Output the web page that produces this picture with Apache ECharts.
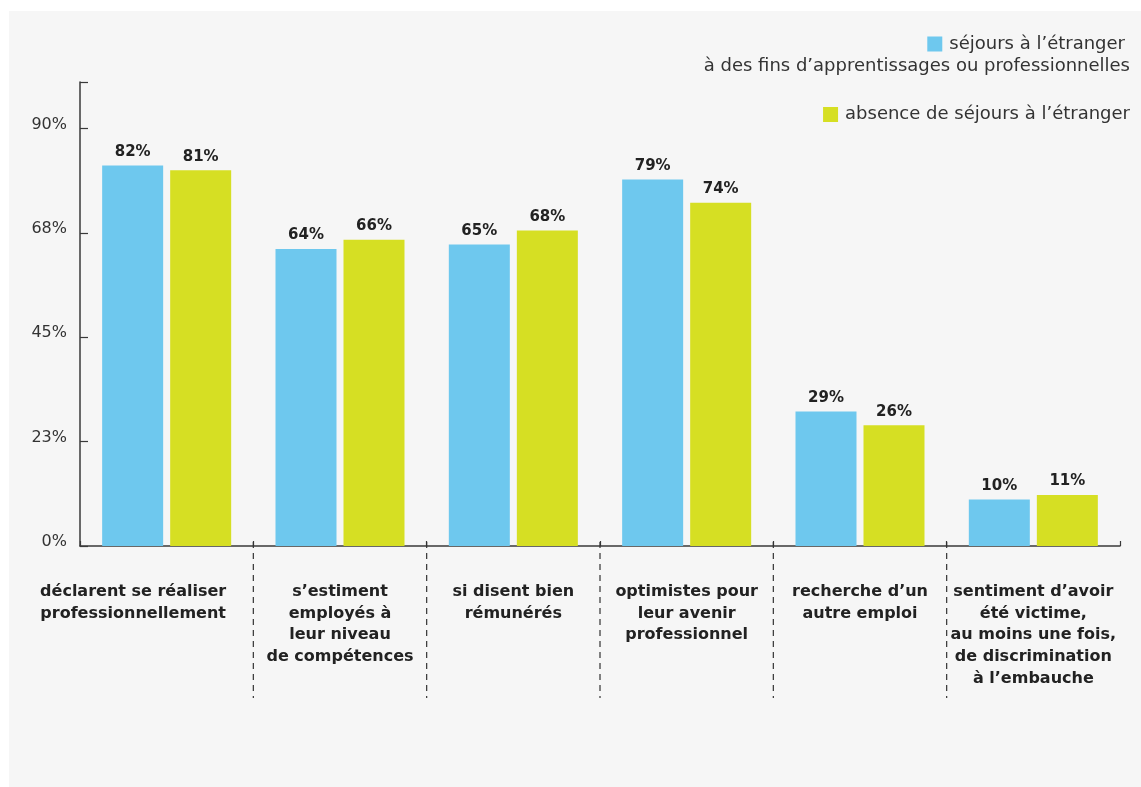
<!DOCTYPE html>
<html>
<head>
<meta charset="utf-8">
<script src="https://cdn.jsdelivr.net/npm/echarts@6/dist/echarts.min.js"></script>
<style>
html,body{margin:0;padding:0;background:#ffffff;}
#chart{position:absolute;left:9px;top:11px;width:1132px;height:776px;background:#f6f6f6;}
</style>
</head>
<body>
<div id="chart"></div>
<script>
const categories = [
  "déclarent se réaliser\nprofessionnellement",
  "s’estiment\nemployés à\nleur niveau\nde compétences",
  "si disent bien\nrémunérés",
  "optimistes pour\nleur avenir\nprofessionnel",
  "recherche d’un\nautre emploi",
  "sentiment d’avoir\nété victime,\nau moins une fois,\nde discrimination\nà l’embauche"
];
const seriesNames = [
  "séjours à l’étranger à des fins d’apprentissages ou professionnelles",
  "absence de séjours à l’étranger"
];
const legendFirstLine = "séjours à l’étranger";
const legendSecondLine = "à des fins d’apprentissages ou professionnelles";
const withStays = [82, 64, 65, 79, 29, 10];
const withoutStays = [81, 66, 68, 74, 26, 11];
const yTicks = [0, 22.5, 45, 67.5, 90];

const LIGHT = '"DejaVu Sans", sans-serif';
const BOLD = '"DejaVu Sans", sans-serif';
const chart = echarts.init(document.getElementById('chart'), null, {renderer: 'canvas'});

const separators = categories.slice(1).map((c, i) => [i + 1, 0]);
// first label is shifted left in the original so it stays clear of the separator
const categoryItems = categories.map((c, i) => i === 0 ? {value: c, textStyle: {padding: [0, 67, 0, 0]}} : c);

const labelStyle = {show: true, position: 'top', distance: 6, formatter: '{c}%', fontSize: 15, fontWeight: 'bold', color: '#222', fontFamily: BOLD};

const option = {
  backgroundColor: '#f6f6f6',
  animation: false,
  textStyle: {fontFamily: LIGHT},
  legend: [
    {
      data: [seriesNames[0]],
      right: 16, top: 24, padding: 0,
      itemWidth: 15, itemHeight: 15, itemGap: 10,
      icon: 'rect',
      formatter: () => legendFirstLine,
      textStyle: {fontSize: 18, color: '#333', fontFamily: LIGHT, padding: [0, 0, 0, 2]},
      selectedMode: false
    },
    {
      data: [seriesNames[1]],
      right: 11, top: 94.5, padding: 0,
      itemWidth: 15, itemHeight: 15,
      icon: 'rect',
      textStyle: {fontSize: 18, color: '#333', fontFamily: LIGHT, padding: [0, 0, 0, 2]},
      selectedMode: false
    }
  ],
  graphic: [
    {
      type: 'text',
      right: 11, top: 46,
      style: {text: legendSecondLine, fontSize: 18, lineHeight: 18, fontFamily: LIGHT, fill: '#333'}
    }
  ],
  grid: {left: 71, right: 21, top: 71, bottom: 241, containLabel: false},
  xAxis: {
    type: 'category',
    data: categoryItems,
    axisLine: {lineStyle: {color: '#3a3a3a', width: 1.5}},
    axisTick: {show: true, inside: true, length: 5, lineStyle: {color: '#3a3a3a', width: 1.2}},
    axisLabel: {
      margin: 35, interval: 0,
      fontSize: 16, fontWeight: 'bold', color: '#222', lineHeight: 21.7, fontFamily: BOLD, align: 'center'
    },
    splitLine: {show: false}
  },
  yAxis: {
    type: 'value',
    min: 0, max: 100, interval: 22.5,
    axisLine: {show: true, lineStyle: {color: '#3a3a3a', width: 1.5}},
    axisTick: {show: true, inside: true, length: 8, lineStyle: {color: '#3a3a3a', width: 1.2}},
    axisLabel: {
      margin: 13, fontSize: 16, color: '#333', fontFamily: LIGHT,
      verticalAlign: 'bottom', lineHeight: 8,
      formatter: v => (yTicks.indexOf(v) >= 0 ? Math.round(v) + '%' : '')
    },
    splitLine: {show: false}
  },
  series: [
    {
      name: seriesNames[0], type: 'bar', data: withStays,
      barWidth: 61, barGap: '11.5%',
      itemStyle: {color: '#6ec8ee'},
      label: labelStyle
    },
    {
      name: seriesNames[1], type: 'bar', data: withoutStays,
      barWidth: 61,
      itemStyle: {color: '#d6df23'},
      label: labelStyle
    },
    {
      name: 'separators', type: 'custom', data: separators, clip: false, silent: true,
      renderItem: function (params, api) {
        const idx = api.value(0);
        const c = api.coord([idx, 0]);
        const w = api.size([1, 0])[0];
        const x = c[0] - w / 2;
        return {
          type: 'line',
          shape: {x1: x, y1: c[1] - 4, x2: x, y2: c[1] + 152},
          style: {stroke: '#333', lineWidth: 1.2, lineDash: [6, 5]}
        };
      }
    }
  ]
};
chart.setOption(option);
</script>
</body>
</html>
